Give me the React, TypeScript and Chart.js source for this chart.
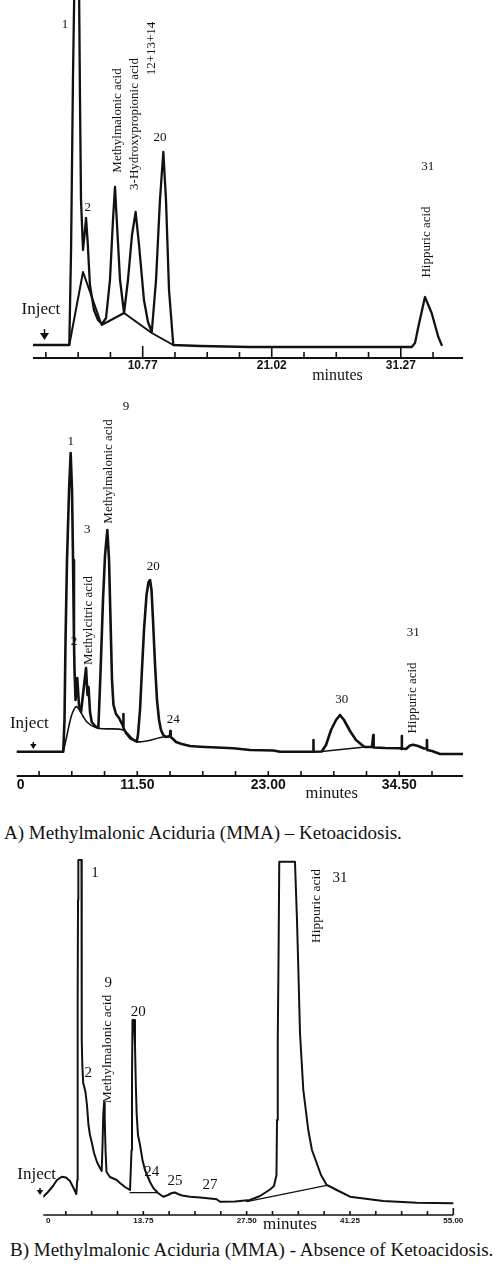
import React, { useEffect, useRef } from "react";
import { Chart, registerables } from "chart.js";

Chart.register(...registerables);

type Pt = [number, number | null];
type Lbl = [string, number, number];

const INK = "#111";
const SERIF = "'Liberation Serif', 'Times New Roman', serif";
const SANS = "'Liberation Sans', Arial, sans-serif";

// ================= Run A (x: minutes, y: detector response) =================
const runA_trace: Pt[] = [
  [2.06, 13], [4.94, 13], [5.08, 108], [5.23, 278], [5.35, 378], [5.71, 378], [5.79, 258], [5.87, 158],
  [6.03, 108], [6.15, 123], [6.27, 140], [6.39, 118], [6.58, 73], [6.9, 48], [7.22, 38], [7.54, 34],
  [7.86, 40], [8.17, 78], [8.41, 138], [8.57, 171], [8.73, 133], [8.97, 78], [9.29, 45], [9.6, 78],
  [9.92, 123], [10.21, 146], [10.48, 113], [10.87, 58], [11.19, 36], [11.49, 26], [11.83, 78], [12.14, 158],
  [12.41, 206], [12.62, 158], [12.86, 68], [13.2, 13], [15.32, 12], [19.29, 11], [32.14, 11], [32.4, 15],
  [32.66, 31], [33.19, 61], [33.72, 45], [34.25, 21], [34.52, 13],
];
const runA_baseline: Pt[] = [[4.94, 13], [6.03, 86], [7.51, 33], [9.29, 45], [11.49, 25], [13.2, 13]];
const runA_ticks = [3.08, 5.645, 8.2075, 10.77, 13.3325, 15.895, 18.4575, 21.02, 23.5825, 26.145, 28.7075, 31.27, 33.8325];
const runA_majorTicks = [10.77, 21.02, 31.27];
const runA_tickLabels: [number, string][] = [[10.77, "10.77"], [21.02, "21.02"], [31.27, "31.27"]];
const runA_peakNumbers: Lbl[] = [["1", 4.6, 333], ["2", 6.4, 150], ["20", 12.14, 220], ["31", 33.41, 191]];
const runA_peakNames: Lbl[] = [
  ["Methylmalonic acid", 8.75, 237.5],
  ["3-Hydroxypropionic acid", 10.16, 234],
  ["12+13+14", 11.49, 309.5],
  ["Hippuric acid", 33.33, 116],
];

// ================= Run B =================
const runB_trace: Pt[] = [
  [0.91, 24.3], [5.0, 24.3], [5.11, 56], [5.2, 136], [5.33, 216], [5.51, 286], [5.65, 323], [5.77, 286],
  [5.86, 216], [5.94, 136], [5.99, 106], [6.08, 76], [6.23, 98], [6.38, 71], [6.56, 64], [6.78, 86],
  [7.0, 108], [7.13, 81], [7.22, 89], [7.35, 64], [7.5, 54], [7.79, 50], [8.08, 48], [8.18, 76],
  [8.31, 116], [8.49, 176], [8.67, 221], [8.87, 246], [9.02, 216], [9.15, 156], [9.28, 96], [9.41, 71],
  [9.63, 62], [9.9, 58], [10.07, 54], [10.25, 50], [10.27, 62], [10.3, 48], [10.51, 43], [10.86, 38],
  [11.45, 34.3], [11.56, 41], [11.74, 66], [11.91, 106], [12.09, 146], [12.31, 181], [12.49, 194], [12.62, 196],
  [12.75, 186], [12.88, 156], [13.06, 111], [13.23, 76], [13.41, 56], [13.58, 46], [13.78, 41], [14.02, 39],
  [14.37, 40], [14.4, 45], [14.43, 39], [14.55, 38], [14.9, 34], [15.4, 32], [16.13, 30], [17.01, 29.3],
  [19.93, 27.7], [21.4, 26], [23.44, 25.5], [24.03, 24.3], [26.95, 24.3], [26.96, 36], [26.98, 24.3], [27.69, 24.5],
  [28.07, 31], [28.51, 46], [28.95, 56], [29.3, 61], [29.65, 56], [30.18, 45], [30.7, 36], [31.23, 31],
  [31.49, 29], [32.11, 29], [32.22, 41], [32.25, 28.5], [33.25, 28], [34.57, 27.7], [34.71, 27], [34.72, 40],
  [34.74, 27.5], [35.09, 27], [35.44, 30.5], [35.73, 31.2], [36.15, 30], [36.67, 27.5], [36.91, 27.5], [36.93, 36],
  [36.95, 26], [37.38, 25], [38.08, 22], [40.1, 22],
];
const runB_baseline: Pt[] = [
  [5.0, 24.3], [5.3, 39.3], [5.74, 61], [6.18, 69.3], [7.06, 54.3], [8.08, 47.7], [10.27, 46], [11.45, 34.3],
  [13.78, 39], [14.37, 39.3], [20, null], [27.69, 24.5], [31.49, 29],
];
const runB_ticks = [2.875, 5.75, 8.625, 11.5, 14.375, 17.25, 20.125, 23, 25.875, 28.75, 31.625, 34.5, 37.375];
const runB_majorTicks: number[] = [];
const runB_tickLabels: [number, string][] = [[1.26, "0"], [11.5, "11.50"], [23, "23.00"], [34.5, "34.50"]];
const runB_peakNumbers: Lbl[] = [
  ["1", 5.65, 334], ["2", 5.94, 134], ["3", 7.11, 246], ["9", 10.51, 369], ["20", 12.91, 209],
  ["24", 14.66, 56], ["30", 29.45, 76], ["31", 35.73, 143],
];
const runB_peakNames: Lbl[] = [
  ["Methylmalonic acid", 8.96, 304.5],
  ["Methylcitric acid", 7.23, 155.5],
  ["Hippuric acid", 35.68, 78],
];

// ================= Run C =================
const runC_trace: Pt[] = [
  [0.44, 18.3], [1.06, 23], [1.73, 29], [2.26, 35], [2.89, 38.3], [3.46, 37.5], [3.99, 34], [4.46, 27],
  [4.83, 21], [4.96, 35], [4.99, 115], [5.03, 215], [5.06, 315], [5.1, 355], [5.52, 355], [5.55, 265],
  [5.56, 175], [5.63, 150], [5.75, 132], [5.89, 128], [6.05, 123], [6.25, 110], [6.45, 90], [6.65, 80],
  [6.88, 73], [7.19, 62], [7.58, 53], [7.98, 47], [8.21, 44], [8.32, 70], [8.42, 100], [8.52, 112],
  [8.61, 97], [8.72, 65], [8.85, 43], [9.31, 38], [10.21, 35], [10.65, 32], [11.31, 28], [11.98, 25],
  [12.18, 65], [12.24, 135], [12.31, 195], [12.51, 195], [12.64, 170], [12.77, 125], [12.87, 100], [13.04, 80],
  [13.31, 70], [13.64, 55], [13.97, 45], [14.64, 33], [15.08, 27], [15.7, 22], [16.41, 18.3], [17.03, 20],
  [17.56, 22], [17.96, 22.5], [18.36, 21], [18.9, 19.5], [19.96, 18.3], [21.29, 17.5], [22.62, 16.5], [23.51, 15.7],
  [23.95, 13.3], [25.95, 13.5], [27.94, 15], [29.28, 19], [30.61, 25.5], [31.14, 29], [31.47, 40], [31.54, 95],
  [31.64, 175], [31.74, 255], [31.84, 353.3], [33.93, 353.3], [34.2, 295], [34.37, 248.3], [34.6, 182], [35.04, 125],
  [35.7, 85], [36.19, 65], [36.82, 52], [37.39, 40], [38.15, 30], [38.72, 28], [39.48, 25], [41.25, 18.3],
  [45.68, 14], [50.13, 12.3], [55.0, 11.7],
];
const runC_baseline: Pt[] = [[11.98, 22.3], [15.53, 22.3], [20, null], [27.51, 13.3], [38.15, 29.7]];
const runC_ticks = [3.4375, 6.875, 10.3125, 13.75, 17.1875, 20.625, 24.0625, 27.5, 30.9375, 34.375, 37.8125, 41.25, 44.6875, 48.125, 51.5625, 55];
const runC_majorTicks = [55];
const runC_tickLabels: [number, string][] = [[1.1, "0"], [13.75, "13.75"], [27.5, "27.50"], [41.25, "41.25"], [55, "55.00"]];
const runC_peakNumbers: Lbl[] = [
  ["1", 7.32, 342], ["2", 6.43, 142], ["9", 9.09, 232], ["20", 13.08, 203], ["24", 14.86, 43],
  ["25", 17.96, 34], ["27", 22.62, 30], ["31", 39.92, 337],
];
const runC_peakNames: Lbl[] = [
  ["Methylmalonic acid", 8.98, 166],
  ["Hippuric acid", 36.82, 309],
];

interface Spec {
  top: number;
  height: number;
  pad: { left: number; right: number; top: number; bottom: number };
  xMin: number;
  xMax: number;
  yMax: number;
  lines: { data: Pt[]; width: number; tension?: number }[];
  ticks: number[];
  major: number[];
  tickLabels: [number, string][];
  tickFont: string;
  tickLabelOffset: number;
  axisWidth: number;
  minorLen: number;
  majorLen: number;
  titleAt: number;
  titleOffset: number;
  titleFont: string;
  numbers: Lbl[];
  numberFont: string;
  names: Lbl[];
  nameFont: string;
  inject: { t: number; v: number; arrowT: number; v1: number; v2: number; head: number };
}

function Panel({ spec }: { spec: Spec }) {
  const ref = useRef<HTMLCanvasElement | null>(null);
  useEffect(() => {
    if (!ref.current) return;
    const overlay = {
      id: "overlay",
      afterDatasetsDraw(chart: any) {
        const ctx: CanvasRenderingContext2D = chart.ctx;
        const area = chart.chartArea;
        const xs = chart.scales.x;
        const ys = chart.scales.y;
        const X = (t: number) => xs.getPixelForValue(t);
        const Y = (v: number) => ys.getPixelForValue(v);
        ctx.save();
        ctx.strokeStyle = INK;
        ctx.fillStyle = INK;
        const yb = area.bottom;
        ctx.lineWidth = spec.axisWidth;
        ctx.beginPath();
        ctx.moveTo(area.left, yb);
        ctx.lineTo(area.right, yb);
        ctx.stroke();
        ctx.lineWidth = 1.6;
        spec.ticks.forEach((t) => {
          const len = spec.major.includes(t) ? spec.majorLen : spec.minorLen;
          const x = X(t);
          ctx.beginPath();
          ctx.moveTo(x, yb);
          ctx.lineTo(x, yb - len);
          ctx.stroke();
        });
        ctx.textAlign = "center";
        ctx.textBaseline = "middle";
        ctx.font = spec.tickFont;
        spec.tickLabels.forEach(([t, s]) => ctx.fillText(s, X(t), yb + spec.tickLabelOffset));
        ctx.font = spec.titleFont;
        ctx.fillText("minutes", X(spec.titleAt), yb + spec.titleOffset);
        ctx.font = spec.numberFont;
        spec.numbers.forEach(([s, t, v]) => ctx.fillText(s, X(t), Y(v)));
        ctx.font = spec.nameFont;
        spec.names.forEach(([s, t, v]) => {
          ctx.save();
          ctx.translate(X(t), Y(v));
          ctx.rotate(-Math.PI / 2);
          ctx.fillText(s, 0, 0);
          ctx.restore();
        });
        const inj = spec.inject;
        ctx.font = `17px ${SERIF}`;
        ctx.fillText("Inject", X(inj.t), Y(inj.v));
        const ax = X(inj.arrowT);
        const ya = Y(inj.v1);
        const yt = Y(inj.v2);
        const h = inj.head;
        ctx.lineWidth = 1.5;
        ctx.beginPath();
        ctx.moveTo(ax, ya);
        ctx.lineTo(ax, yt - h);
        ctx.stroke();
        ctx.beginPath();
        ctx.moveTo(ax - h * 0.65, yt - h);
        ctx.lineTo(ax + h * 0.65, yt - h);
        ctx.lineTo(ax, yt);
        ctx.closePath();
        ctx.fill();
        ctx.restore();
      },
    };
    const chart = new Chart(ref.current, {
      type: "line",
      data: {
        datasets: spec.lines.map((l) => ({
          data: l.data.map(([x, y]) => ({ x, y })) as any,
          borderColor: INK,
          borderWidth: l.width,
          tension: l.tension ?? 0,
          pointRadius: 0,
          fill: false,
          spanGaps: false,
          borderJoinStyle: "round" as const,
          borderCapStyle: "round" as const,
        })),
      },
      options: {
        responsive: false,
        animation: false,
        events: [],
        layout: { padding: spec.pad },
        plugins: { legend: { display: false }, tooltip: { enabled: false }, title: { display: false } },
        scales: {
          x: { type: "linear", min: spec.xMin, max: spec.xMax, display: false },
          y: { type: "linear", min: 0, max: spec.yMax, display: false },
        },
      },
      plugins: [overlay],
    });
    return () => chart.destroy();
  }, [spec]);
  return (
    <canvas
      ref={ref}
      width={500}
      height={spec.height}
      style={{ position: "absolute", left: 0, top: spec.top, width: 500, height: spec.height }}
    />
  );
}

const specA: Spec = {
  top: 0,
  height: 390,
  pad: { left: 33, right: 37, top: 0, bottom: 32 },
  xMin: 2.057,
  xMax: 36.211,
  yMax: 358,
  lines: [
    { data: runA_trace, width: 2.3 },
    { data: runA_baseline, width: 2 },
  ],
  ticks: runA_ticks,
  major: runA_majorTicks,
  tickLabels: runA_tickLabels,
  tickFont: `bold 12px ${SANS}`,
  tickLabelOffset: 8,
  axisWidth: 2.2,
  minorLen: 6,
  majorLen: 12,
  titleAt: 26.24,
  titleOffset: 18,
  titleFont: `16px ${SERIF}`,
  numbers: runA_peakNumbers,
  numberFont: `13px ${SERIF}`,
  names: runA_peakNames,
  nameFont: `13px ${SERIF}`,
  inject: { t: 2.68, v: 48.7, arrowT: 2.97, v1: 29, v2: 18, head: 7 },
};

const specB: Spec = {
  top: 380,
  height: 425,
  pad: { left: 16.7, right: 37, top: 0, bottom: 29 },
  xMin: 0.913,
  xMax: 40.097,
  yMax: 396,
  lines: [
    { data: runB_trace, width: 2.6 },
    { data: runB_baseline, width: 1.6, tension: 0.3 },
  ],
  ticks: runB_ticks,
  major: runB_majorTicks,
  tickLabels: runB_tickLabels,
  tickFont: `bold 14px ${SANS}`,
  tickLabelOffset: 9,
  axisWidth: 2,
  minorLen: 5,
  majorLen: 5,
  titleAt: 28.57,
  titleOffset: 18,
  titleFont: `16.5px ${SERIF}`,
  numbers: runB_peakNumbers,
  numberFont: `13px ${SERIF}`,
  names: runB_peakNames,
  nameFont: `13px ${SERIF}`,
  inject: { t: 2.02, v: 52, arrowT: 2.37, v1: 34, v2: 27, head: 5 },
};

const specC: Spec = {
  top: 845,
  height: 390,
  pad: { left: 43.3, right: 46.7, top: 0, bottom: 20 },
  xMin: 0.439,
  xMax: 55.0,
  yMax: 370,
  lines: [
    { data: runC_trace, width: 2 },
    { data: runC_baseline, width: 1.2 },
  ],
  ticks: runC_ticks,
  major: runC_majorTicks,
  tickLabels: runC_tickLabels,
  tickFont: `bold 8px ${SANS}`,
  tickLabelOffset: 5.5,
  axisWidth: 1.5,
  minorLen: 4,
  majorLen: 7,
  titleAt: 33.27,
  titleOffset: 10,
  titleFont: `17px ${SERIF}`,
  numbers: runC_peakNumbers,
  numberFont: `15px ${SERIF}`,
  names: runC_peakNames,
  nameFont: `13.5px ${SERIF}`,
  inject: { t: -0.44, v: 40, arrowT: 0.0, v1: 27, v2: 20, head: 5 },
};

const captionStyle: React.CSSProperties = {
  position: "absolute",
  fontFamily: SERIF,
  fontSize: 19,
  lineHeight: "19px",
  whiteSpace: "nowrap",
  color: INK,
};

export default function App() {
  return (
    <div style={{ position: "absolute", left: 0, top: 0, width: 500, height: 1272, background: "#fff", overflow: "hidden" }}>
      <Panel spec={specA} />
      <Panel spec={specB} />
      <Panel spec={specC} />
      <div style={{ ...captionStyle, left: 4, top: 823 }}>A) Methylmalonic Aciduria (MMA) – Ketoacidosis.</div>
      <div style={{ ...captionStyle, left: 10, top: 1240 }}>B) Methylmalonic Aciduria (MMA) - Absence of Ketoacidosis.</div>
    </div>
  );
}
